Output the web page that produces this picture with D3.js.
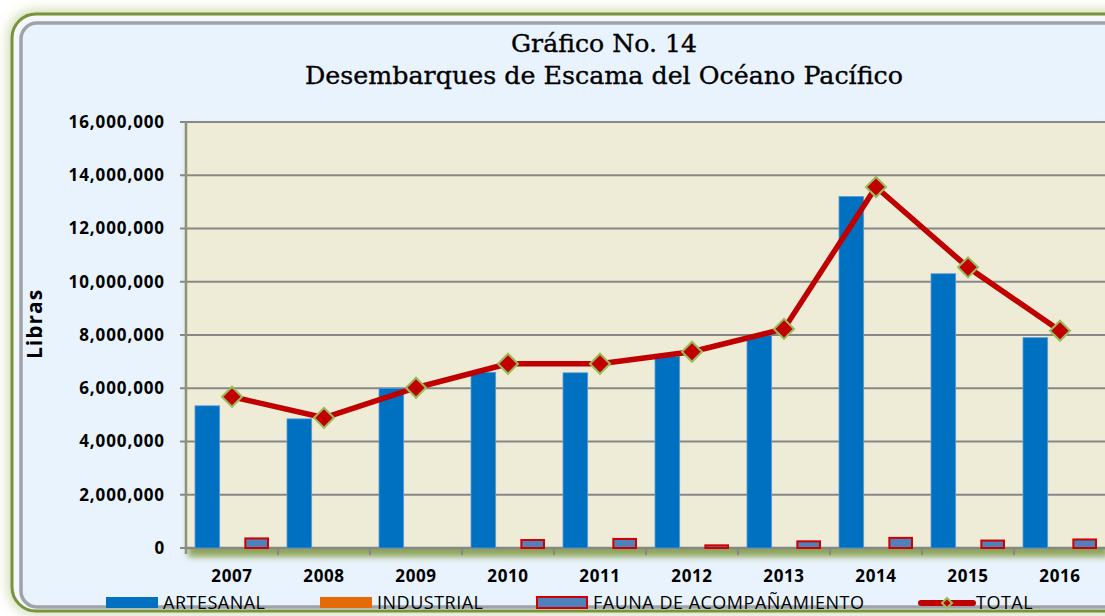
<!DOCTYPE html>
<html>
<head>
<meta charset="utf-8">
<script src="https://cdn.jsdelivr.net/npm/d3@7"></script>
<style>
  body { margin: 0; background: #ffffff; }
  svg { display: block; }
</style>
</head>
<body>
<div id="container"></div>
<script>
const width = 1105;
const height = 616;

// data
const years = ["2007", "2008", "2009", "2010", "2011", "2012", "2013", "2014", "2015", "2016"];
const artesanal = [5340000, 4850000, 6000000, 6600000, 6580000, 7200000, 8000000, 13200000, 10300000, 7900000];
const industrial = [0, 0, 0, 0, 0, 0, 0, 0, 0, 0];
const fauna = [360000, 0, 0, 300000, 340000, 100000, 250000, 380000, 280000, 320000];
const total = [5680000, 4890000, 6020000, 6920000, 6920000, 7370000, 8230000, 13560000, 10540000, 8160000];
const yTicks = [0, 2000000, 4000000, 6000000, 8000000, 10000000, 12000000, 14000000, 16000000];
const seriesNames = ["ARTESANAL", "INDUSTRIAL", "FAUNA DE ACOMPAÑAMIENTO", "TOTAL"];

const plot = { left: 186, top: 122, right: 1106, bottom: 548 };

const svg = d3.select("#container")
              .append("svg")
              .attr("width", width)
              .attr("height", height);

const defs = svg.append("defs");
const glow = defs.append("filter").attr("id", "glow")
                 .attr("x", "-5%").attr("y", "-5%").attr("width", "110%").attr("height", "110%");
glow.append("feGaussianBlur").attr("stdDeviation", 6);
const shadow = defs.append("filter").attr("id", "shadow")
                   .attr("x", "-5%").attr("y", "-5%").attr("width", "110%").attr("height", "115%");
shadow.append("feGaussianBlur").attr("stdDeviation", 3);

// outer frame
svg.append("rect")
   .attr("x", 8).attr("y", 10).attr("width", 1130).attr("height", 604)
   .attr("rx", 26)
   .style("fill", "#cfdcae")
   .attr("filter", "url(#glow)");
svg.append("rect")
   .attr("x", 12).attr("y", 14).attr("width", 1120).attr("height", 597)
   .attr("rx", 24)
   .style("fill", "#f4f7fb")
   .style("stroke", "#77933c")
   .style("stroke-width", 3);
svg.append("rect")
   .attr("x", 21).attr("y", 23).attr("width", 1110).attr("height", 584)
   .attr("rx", 16)
   .style("fill", "#e9f3fd")
   .style("stroke", "#9ea3aa")
   .style("stroke-width", 3.5);

// title
const title = svg.append("g")
                 .style("font-family", "'DejaVu Serif', serif")
                 .style("fill", "#000")
                 .style("stroke", "#000")
                 .style("stroke-width", 0.35);
title.append("text")
     .attr("x", 604).attr("y", 52)
     .attr("text-anchor", "middle")
     .style("font-size", "25px")
     .attr("textLength", 186)
     .attr("lengthAdjust", "spacingAndGlyphs")
     .text("Gráfico No. 14");
title.append("text")
     .attr("x", 604).attr("y", 84)
     .attr("text-anchor", "middle")
     .style("font-size", "25px")
     .attr("textLength", 598)
     .attr("lengthAdjust", "spacingAndGlyphs")
     .text("Desembarques de Escama del Océano Pacífico");

// scales
const x = d3.scaleBand()
            .domain(years)
            .range([plot.left, plot.right]);
const x1 = d3.scaleBand()
             .domain(["ARTESANAL", "INDUSTRIAL", "FAUNA"])
             .range([9, 83]);
const y = d3.scaleLinear()
            .domain([0, 16000000])
            .range([plot.bottom, plot.top]);

// plot area with shadow
svg.append("rect")
   .attr("x", plot.left + 2).attr("y", plot.top + 4)
   .attr("width", plot.right - plot.left).attr("height", plot.bottom - plot.top + 5)
   .style("fill", "#8fa55a")
   .attr("filter", "url(#shadow)");
svg.append("rect")
   .attr("x", plot.left).attr("y", plot.top)
   .attr("width", plot.right - plot.left).attr("height", plot.bottom - plot.top)
   .style("fill", "#eeebd7");

// gridlines
svg.append("g")
   .selectAll("line")
   .data(yTicks)
   .enter()
   .append("line")
   .attr("x1", plot.left - 6)
   .attr("x2", plot.right)
   .attr("y1", d => y(d))
   .attr("y2", d => y(d))
   .style("stroke", "#878787")
   .style("stroke-width", 2);

// y axis
const yAxis = d3.axisLeft(y)
                .tickValues(yTicks)
                .tickFormat(d3.format(","))
                .tickSize(0)
                .tickPadding(21);
const yAxisG = svg.append("g")
                  .attr("transform", "translate(" + plot.left + ",0)")
                  .call(yAxis);
yAxisG.select(".domain").remove();
yAxisG.selectAll("text")
      .style("font-family", "'Open Sans', sans-serif")
      .style("font-weight", "bold")
      .style("font-size", "17px")
      .style("letter-spacing", "0.9px")
      .style("fill", "#000");
svg.append("line")
   .attr("x1", plot.left).attr("x2", plot.left)
   .attr("y1", plot.top).attr("y2", plot.bottom + 6)
   .style("stroke", "#8d9279")
   .style("stroke-width", 2.5);

// x axis
svg.append("line")
   .attr("x1", plot.left).attr("x2", plot.right)
   .attr("y1", plot.bottom).attr("y2", plot.bottom)
   .style("stroke", "#878787")
   .style("stroke-width", 2.5);
svg.append("g")
   .selectAll("line")
   .data(years)
   .enter()
   .append("line")
   .attr("x1", d => x(d) + x.bandwidth())
   .attr("x2", d => x(d) + x.bandwidth())
   .attr("y1", plot.bottom)
   .attr("y2", plot.bottom + 7)
   .style("stroke", "#878787")
   .style("stroke-width", 2);
svg.append("g")
   .selectAll("text")
   .data(years)
   .enter()
   .append("text")
   .attr("x", d => x(d) + x.bandwidth() / 2)
   .attr("y", 582)
   .attr("text-anchor", "middle")
   .style("font-family", "'Open Sans', sans-serif")
   .style("font-weight", "bold")
   .style("font-size", "17px")
   .style("letter-spacing", "0.6px")
   .text(d => d);

// y axis title
svg.append("text")
   .attr("transform", "translate(42,324) rotate(-90)")
   .attr("text-anchor", "middle")
   .style("font-family", "'Open Sans', sans-serif")
   .style("font-weight", "bold")
   .style("font-size", "21px")
   .style("letter-spacing", "1px")
   .text("Libras");

// bars
const bars = svg.append("g");
bars.selectAll(".artesanal")
    .data(years)
    .enter()
    .append("rect")
    .attr("class", "artesanal")
    .attr("x", d => x(d) + x1("ARTESANAL"))
    .attr("width", x1.bandwidth())
    .attr("y", (d, i) => y(artesanal[i]))
    .attr("height", (d, i) => y(0) - y(artesanal[i]))
    .style("fill", "#0070c0")
    .style("stroke", "#5b9bd5")
    .style("stroke-width", 0.8);
bars.selectAll(".industrial")
    .data(years)
    .enter()
    .append("rect")
    .attr("class", "industrial")
    .attr("x", d => x(d) + x1("INDUSTRIAL"))
    .attr("width", x1.bandwidth())
    .attr("y", (d, i) => y(industrial[i]))
    .attr("height", (d, i) => y(0) - y(industrial[i]))
    .style("fill", "#e36c09");
bars.selectAll(".fauna")
    .data(years.filter((d, i) => fauna[i] > 0))
    .enter()
    .append("rect")
    .attr("class", "fauna")
    .attr("x", d => x(d) + x1("FAUNA") + 1)
    .attr("width", x1.bandwidth() - 2)
    .attr("y", d => y(fauna[years.indexOf(d)]))
    .attr("height", d => y(0) - y(fauna[years.indexOf(d)]))
    .style("fill", "#4f81bd")
    .style("stroke", "#d00000")
    .style("stroke-width", 2);

// total line
const line = d3.line()
               .x((d, i) => x(years[i]) + x.bandwidth() / 2)
               .y(d => y(d));
svg.append("path")
   .datum(total)
   .attr("d", line)
   .style("fill", "none")
   .style("stroke", "#c00000")
   .style("stroke-width", 5.5)
   .style("stroke-linejoin", "round");
const diamond = d3.symbol().type(d3.symbolSquare).size(200);
svg.append("g")
   .selectAll("path")
   .data(total)
   .enter()
   .append("path")
   .attr("d", diamond)
   .attr("transform", (d, i) => "translate(" + (x(years[i]) + x.bandwidth() / 2) + "," + y(d) + ") rotate(45)")
   .style("fill", "#c00000")
   .style("stroke", "#9bbb59")
   .style("stroke-width", 2);

// legend
const legend = svg.append("g")
                  .style("font-family", "'Open Sans', sans-serif")
                  .style("font-size", "18px")
                  .style("letter-spacing", "0.5px");
const legendX = [106, 320, 536, 919];
const legendY = 602;
legend.append("rect").attr("x", legendX[0]).attr("y", legendY - 5).attr("width", 52).attr("height", 11)
      .style("fill", "#0070c0");
legend.append("rect").attr("x", legendX[1]).attr("y", legendY - 5).attr("width", 52).attr("height", 11)
      .style("fill", "#e36c09");
legend.append("rect").attr("x", legendX[2] + 1).attr("y", legendY - 5).attr("width", 50).attr("height", 11)
      .style("fill", "#4f81bd").style("stroke", "#d00000").style("stroke-width", 2);
legend.append("line").attr("x1", legendX[3] + 2).attr("x2", legendX[3] + 54)
      .attr("y1", legendY + 1).attr("y2", legendY + 1)
      .style("stroke", "#c00000").style("stroke-width", 6).style("stroke-linecap", "round");
legend.append("path")
      .attr("d", d3.symbol().type(d3.symbolSquare).size(50))
      .attr("transform", "translate(" + (legendX[3] + 28) + "," + (legendY + 1) + ") rotate(45)")
      .style("fill", "#c00000").style("stroke", "#9bbb59").style("stroke-width", 2);
legend.selectAll("text")
      .data(seriesNames)
      .enter()
      .append("text")
      .attr("x", (d, i) => legendX[i] + 57)
      .attr("y", legendY + 7)
      .text(d => d);
</script>
</body>
</html>
